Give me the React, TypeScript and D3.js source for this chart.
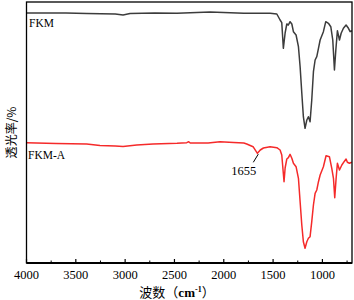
import React from "react";
import * as d3 from "d3";

// Wavenumber (cm^-1) and transmittance (arbitrary units, stacked)
const fkmWn = [4000, 3600, 3390, 3100, 3021, 2950, 2700, 2474, 2139, 1797, 1560, 1530, 1462, 1429, 1412, 1396, 1378, 1361, 1345, 1328, 1310, 1294, 1267, 1243, 1226, 1209, 1193, 1176, 1158, 1142, 1125, 1108, 1091, 1074, 1057, 1040, 1023, 990, 966, 939, 915, 895, 878, 864, 848, 827, 810, 787, 760, 736, 719, 702];
const fkmT = [250, 250, 249.5, 249, 248, 249.5, 250, 249.7, 251, 249.7, 249.7, 249.7, 249, 243, 240.3, 214.7, 230, 239, 238, 241.3, 239, 231.3, 228, 216.3, 196.3, 170, 146.3, 134.7, 143, 146.3, 141.3, 163, 191.3, 203, 206.3, 214.7, 223, 231.3, 241.3, 239.7, 236.3, 223, 193, 213, 232.3, 223, 229.7, 234.7, 238, 234.7, 231.3, 232.3];

const fkmaWn = [4000, 3700, 3390, 3255, 3100, 3021, 2882, 2717, 2474, 2375, 2355, 2340, 2159, 2038, 1900, 1797, 1767, 1703, 1659, 1630, 1598, 1530, 1462, 1429, 1412, 1389, 1378, 1361, 1345, 1328, 1310, 1294, 1267, 1243, 1226, 1209, 1193, 1176, 1158, 1142, 1125, 1108, 1091, 1074, 1057, 1040, 1023, 990, 963, 929, 905, 888, 875, 861, 848, 827, 803, 780, 760, 747, 726, 702];
const fkmaT = [120.3, 119.5, 119, 117.5, 117, 116.5, 118, 119, 119.7, 120.3, 121.3, 120, 120, 121.3, 120.5, 120, 119, 116.3, 109.7, 113, 115, 116.3, 115.3, 113, 108, 81.3, 95, 104, 105.3, 108.7, 104.7, 99.7, 96.3, 84.7, 61.3, 38, 21.3, 14.7, 21.3, 24.7, 26.3, 41.3, 58, 69.7, 73, 81.3, 88, 96.3, 107.3, 106.3, 94.7, 84.7, 65.3, 84.7, 99.7, 93, 98, 101.3, 104, 100.7, 99.7, 100.7];

const majorTicks = [4000, 3500, 3000, 2500, 2000, 1500, 1000];
const minorTicks = [3750, 3250, 2750, 2250, 1750, 1250, 750];
const seriesNames = ["FKM", "FKM-A"];
const peakLabel = 1655;
const peakValue = 109.7;

const W = 354;
const H = 300;
const M = { left: 26.5, right: 352, top: 2, bottom: 263 };

export default function App() {
  const x = d3.scaleLinear().domain([4000, 700]).range([M.left, M.right]);
  const y = d3.scaleLinear().domain([0, 261]).range([M.bottom, M.top]);
  const line = d3
    .line<[number, number]>()
    .x((d) => x(d[0]))
    .y((d) => y(d[1]))
    .curve(d3.curveLinear);
  const fkm = fkmWn.map((w, i) => [w, fkmT[i]] as [number, number]);
  const fkma = fkmaWn.map((w, i) => [w, fkmaT[i]] as [number, number]);
  const px = x(peakLabel);
  const py = y(peakValue);
  const serif = "'Liberation Serif', 'DejaVu Serif', serif";
  const cjk = "'Noto Sans CJK SC', sans-serif";

  return (
    <svg
      width={W}
      height={H}
      style={{ position: "absolute", left: 0, top: 0, background: "#fff" }}
    >
      <rect x={0} y={0} width={W} height={H} fill="#fff" />
      <defs>
        <clipPath id="plot">
          <rect x={M.left} y={M.top} width={M.right - M.left} height={M.bottom - M.top} />
        </clipPath>
      </defs>
      <g clipPath="url(#plot)">
        <path d={line(fkm) || ""} fill="none" stroke="#3c3c3c" strokeWidth={1.5} strokeLinejoin="round" />
        <path d={line(fkma) || ""} fill="none" stroke="#f52a2a" strokeWidth={1.5} strokeLinejoin="round" />
      </g>
      <rect
        x={M.left}
        y={M.top}
        width={M.right - M.left}
        height={M.bottom - M.top}
        fill="none"
        stroke="#000"
        strokeWidth={1.3}
      />
      <line x1={M.left} x2={M.right} y1={M.bottom} y2={M.bottom} stroke="#000" strokeWidth={1.8} />
      {majorTicks.map((t) => (
        <g key={t}>
          <line x1={x(t)} x2={x(t)} y1={M.bottom} y2={M.bottom - 4} stroke="#000" strokeWidth={1.2} />
          <text
            x={x(t)}
            y={279}
            textAnchor="middle"
            fontFamily={serif}
            fontSize={12.5}
            fill="#000"
          >
            {t}
          </text>
        </g>
      ))}
      {minorTicks.map((t) => (
        <line key={t} x1={x(t)} x2={x(t)} y1={M.bottom} y2={M.bottom - 2.5} stroke="#000" strokeWidth={1} />
      ))}
      <text x={177} y={297} textAnchor="middle" fontSize={13} fill="#000">
        <tspan fontFamily={cjk}>波数</tspan>
        <tspan fontFamily={cjk}>（</tspan>
        <tspan fontFamily={serif} fontWeight="bold">cm</tspan>
        <tspan fontFamily={serif} fontWeight="bold" fontSize={8} dy={-5}>-1</tspan>
        <tspan fontFamily={cjk} dy={5}>）</tspan>
      </text>
      <text
        transform={`translate(16, ${(M.top + M.bottom) / 2}) rotate(-90)`}
        textAnchor="middle"
        fontFamily={cjk}
        fontSize={12}
        fill="#000"
      >
        透光率/%
      </text>
      <text x={29} y={27} fontFamily={serif} fontSize={11.5} fill="#000">
        {seriesNames[0]}
      </text>
      <text x={28} y={159} fontFamily={serif} fontSize={11.5} fill="#000">
        {seriesNames[1]}
      </text>
      <line x1={px - 4.5} y1={py + 9} x2={px + 0.5} y2={py + 0.8} stroke="#000" strokeWidth={1} />
      <text x={px - 14} y={py + 21.5} textAnchor="middle" fontFamily={serif} fontSize={12.5} fill="#000">
        {peakLabel}
      </text>
    </svg>
  );
}
